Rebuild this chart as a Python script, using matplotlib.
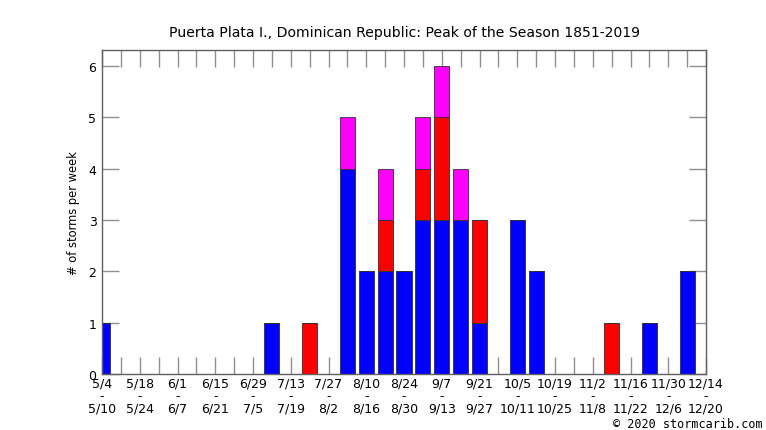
import numpy as np
import matplotlib
matplotlib.use("Agg")
import matplotlib.pyplot as plt

# week start/end labels (every second week is labelled)
week_start = ["5/4", "5/18", "6/1", "6/15", "6/29", "7/13", "7/27", "8/10", "8/24",
              "9/7", "9/21", "10/5", "10/19", "11/2", "11/16", "11/30", "12/14"]
week_end = ["5/10", "5/24", "6/7", "6/21", "7/5", "7/19", "8/2", "8/16", "8/30",
            "9/13", "9/27", "10/11", "10/25", "11/8", "11/22", "12/6", "12/20"]

# storms per week, weeks 0..32 starting 5/4
blue = [1, 0, 0, 0, 0, 0, 0, 0, 0, 1, 0, 0, 0, 4, 2, 2, 2,
        3, 3, 3, 1, 0, 3, 2, 0, 0, 0, 0, 0, 1, 0, 2, 0]
red = [0, 0, 0, 0, 0, 0, 0, 0, 0, 0, 0, 1, 0, 0, 0, 1, 0,
       1, 2, 0, 2, 0, 0, 0, 0, 0, 0, 1, 0, 0, 0, 0, 0]
magenta = [0, 0, 0, 0, 0, 0, 0, 0, 0, 0, 0, 0, 0, 1, 0, 1, 0,
           1, 1, 1, 0, 0, 0, 0, 0, 0, 0, 0, 0, 0, 0, 0, 0]

title = "Puerta Plata I., Dominican Republic: Peak of the Season 1851-2019"

blue = np.array(blue)
red = np.array(red)
magenta = np.array(magenta)
weeks = np.arange(len(blue))

fig = plt.figure(figsize=(7.66, 4.31), dpi=100)
ax = fig.add_axes([0.1332, 0.13, 0.7885, 0.7517])

w = 0.8
ec = "#303030"
ax.bar(weeks, blue, width=w, color="#0000ff", edgecolor=ec, linewidth=0.6, zorder=3)
ax.bar(weeks, red, width=w, bottom=blue, color="#ff0000", edgecolor=ec, linewidth=0.6, zorder=3)
ax.bar(weeks, magenta, width=w, bottom=blue + red, color="#ff00ff", edgecolor=ec, linewidth=0.6, zorder=3)

ax.set_xlim(0, 32)
ax.set_ylim(0, 6.31)

labels = []
for i in range(33):
    if i % 2 == 0:
        labels.append(week_start[i // 2] + "\n-\n" + week_end[i // 2])
    else:
        labels.append("")
ax.set_xticks(weeks)
ax.set_xticklabels(labels, fontsize=9, linespacing=0.92)
ax.set_yticks(range(7))
ax.set_yticklabels([str(i) for i in range(7)], fontsize=9)

ax.tick_params(axis="both", direction="in", length=12, width=1, color="#909090",
               top=True, right=True, zorder=4)
ax.tick_params(axis="x", pad=2)
ax.tick_params(axis="y", pad=4)
for s in ax.spines.values():
    s.set_color("#606060")
    s.set_linewidth(1)
    s.set_zorder(5)

ax.set_ylabel("# of storms per week", fontsize=8.3, labelpad=6)
ax.set_title(title, fontsize=10.1, pad=10)

fig.text(0.995, 0.0, "\u00a9 2020 stormcarib.com", ha="right", va="bottom",
         family="DejaVu Sans Mono", fontsize=8.5)

fig.savefig("out.png", dpi=100)
